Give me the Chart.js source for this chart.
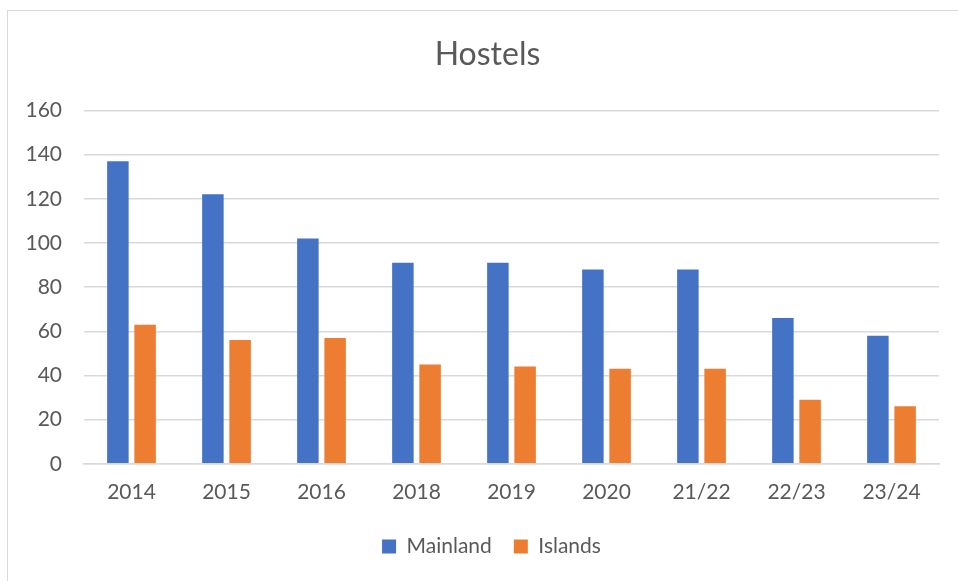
<!DOCTYPE html>
<html>
<head>
<meta charset="utf-8">
<script src="https://cdn.jsdelivr.net/npm/chart.js@4/dist/chart.umd.min.js"></script>
<style>
  html, body { margin: 0; padding: 0; background: #fff; overflow: hidden; }
  #frame { position: absolute; left: 7px; top: 10px; width: 1000px; height: 1000px; border: 1.5px solid #d9d9d9; }
  #wrap { position: absolute; left: 0; top: 0; width: 958px; height: 581px; }
</style>
</head>
<body>
<div id="frame"></div>
<div id="wrap"><canvas id="c" width="958" height="581"></canvas></div>
<script>
const categories = ["2014", "2015", "2016", "2018", "2019", "2020", "21/22", "22/23", "23/24"];
const mainland = [137, 122, 102, 91, 91, 88, 88, 66, 58];
const islands = [63, 56, 57, 45, 44, 43, 43, 29, 26];
const yTicks = [0, 20, 40, 60, 80, 100, 120, 140, 160];

const FONT = "Lato";
const TXT = "#595959";

const shiftBoxes = {
  id: "shiftBoxes",
  afterLayout(chart) {
    if (chart.legend) { chart.legend.left += 22; chart.legend.right += 22; }
    if (chart.titleBlock) { chart.titleBlock.left += 18; chart.titleBlock.right += 18; }
  }
};

new Chart(document.getElementById("c"), {
  type: "bar",
  data: {
    labels: categories,
    datasets: [
      { label: "Mainland", data: mainland, backgroundColor: "#4472C4", categoryPercentage: 0.573, barPercentage: 0.79 },
      { label: "Islands", data: islands, backgroundColor: "#ED7D31", categoryPercentage: 0.573, barPercentage: 0.79 }
    ]
  },
  plugins: [shiftBoxes],
  options: {
    responsive: false,
    animation: false,
    layout: { padding: { left: 0, right: 19, top: 0, bottom: 14 } },
    plugins: {
      title: {
        display: true, text: "Hostels", color: TXT,
        font: { family: FONT, size: 32, weight: "normal" },
        padding: { top: 35, bottom: 37 }
      },
      legend: {
        position: "bottom",
        labels: {
          color: TXT, font: { family: FONT, size: 21 },
          boxWidth: 14, boxHeight: 14, padding: 22
        }
      },
      tooltip: { enabled: false }
    },
    scales: {
      x: {
        afterFit: (s) => { s.height = s.height - 7; },
        grid: { display: false, drawTicks: false },
        border: { display: true, color: "#d9d9d9", width: 1.5 },
        ticks: { color: TXT, font: { family: FONT, size: 21 }, padding: 16, maxRotation: 0 }
      },
      y: {
        min: 0, max: 160,
        afterBuildTicks: (s) => { s.ticks = yTicks.map(v => ({ value: v })); },
        afterFit: (s) => { s.width = 84; },
        grid: { color: "#d9d9d9", lineWidth: 1.5, drawTicks: false },
        border: { display: false },
        ticks: { color: TXT, font: { family: FONT, size: 21 }, padding: 22 }
      }
    }
  }
});
</script>
</body>
</html>
